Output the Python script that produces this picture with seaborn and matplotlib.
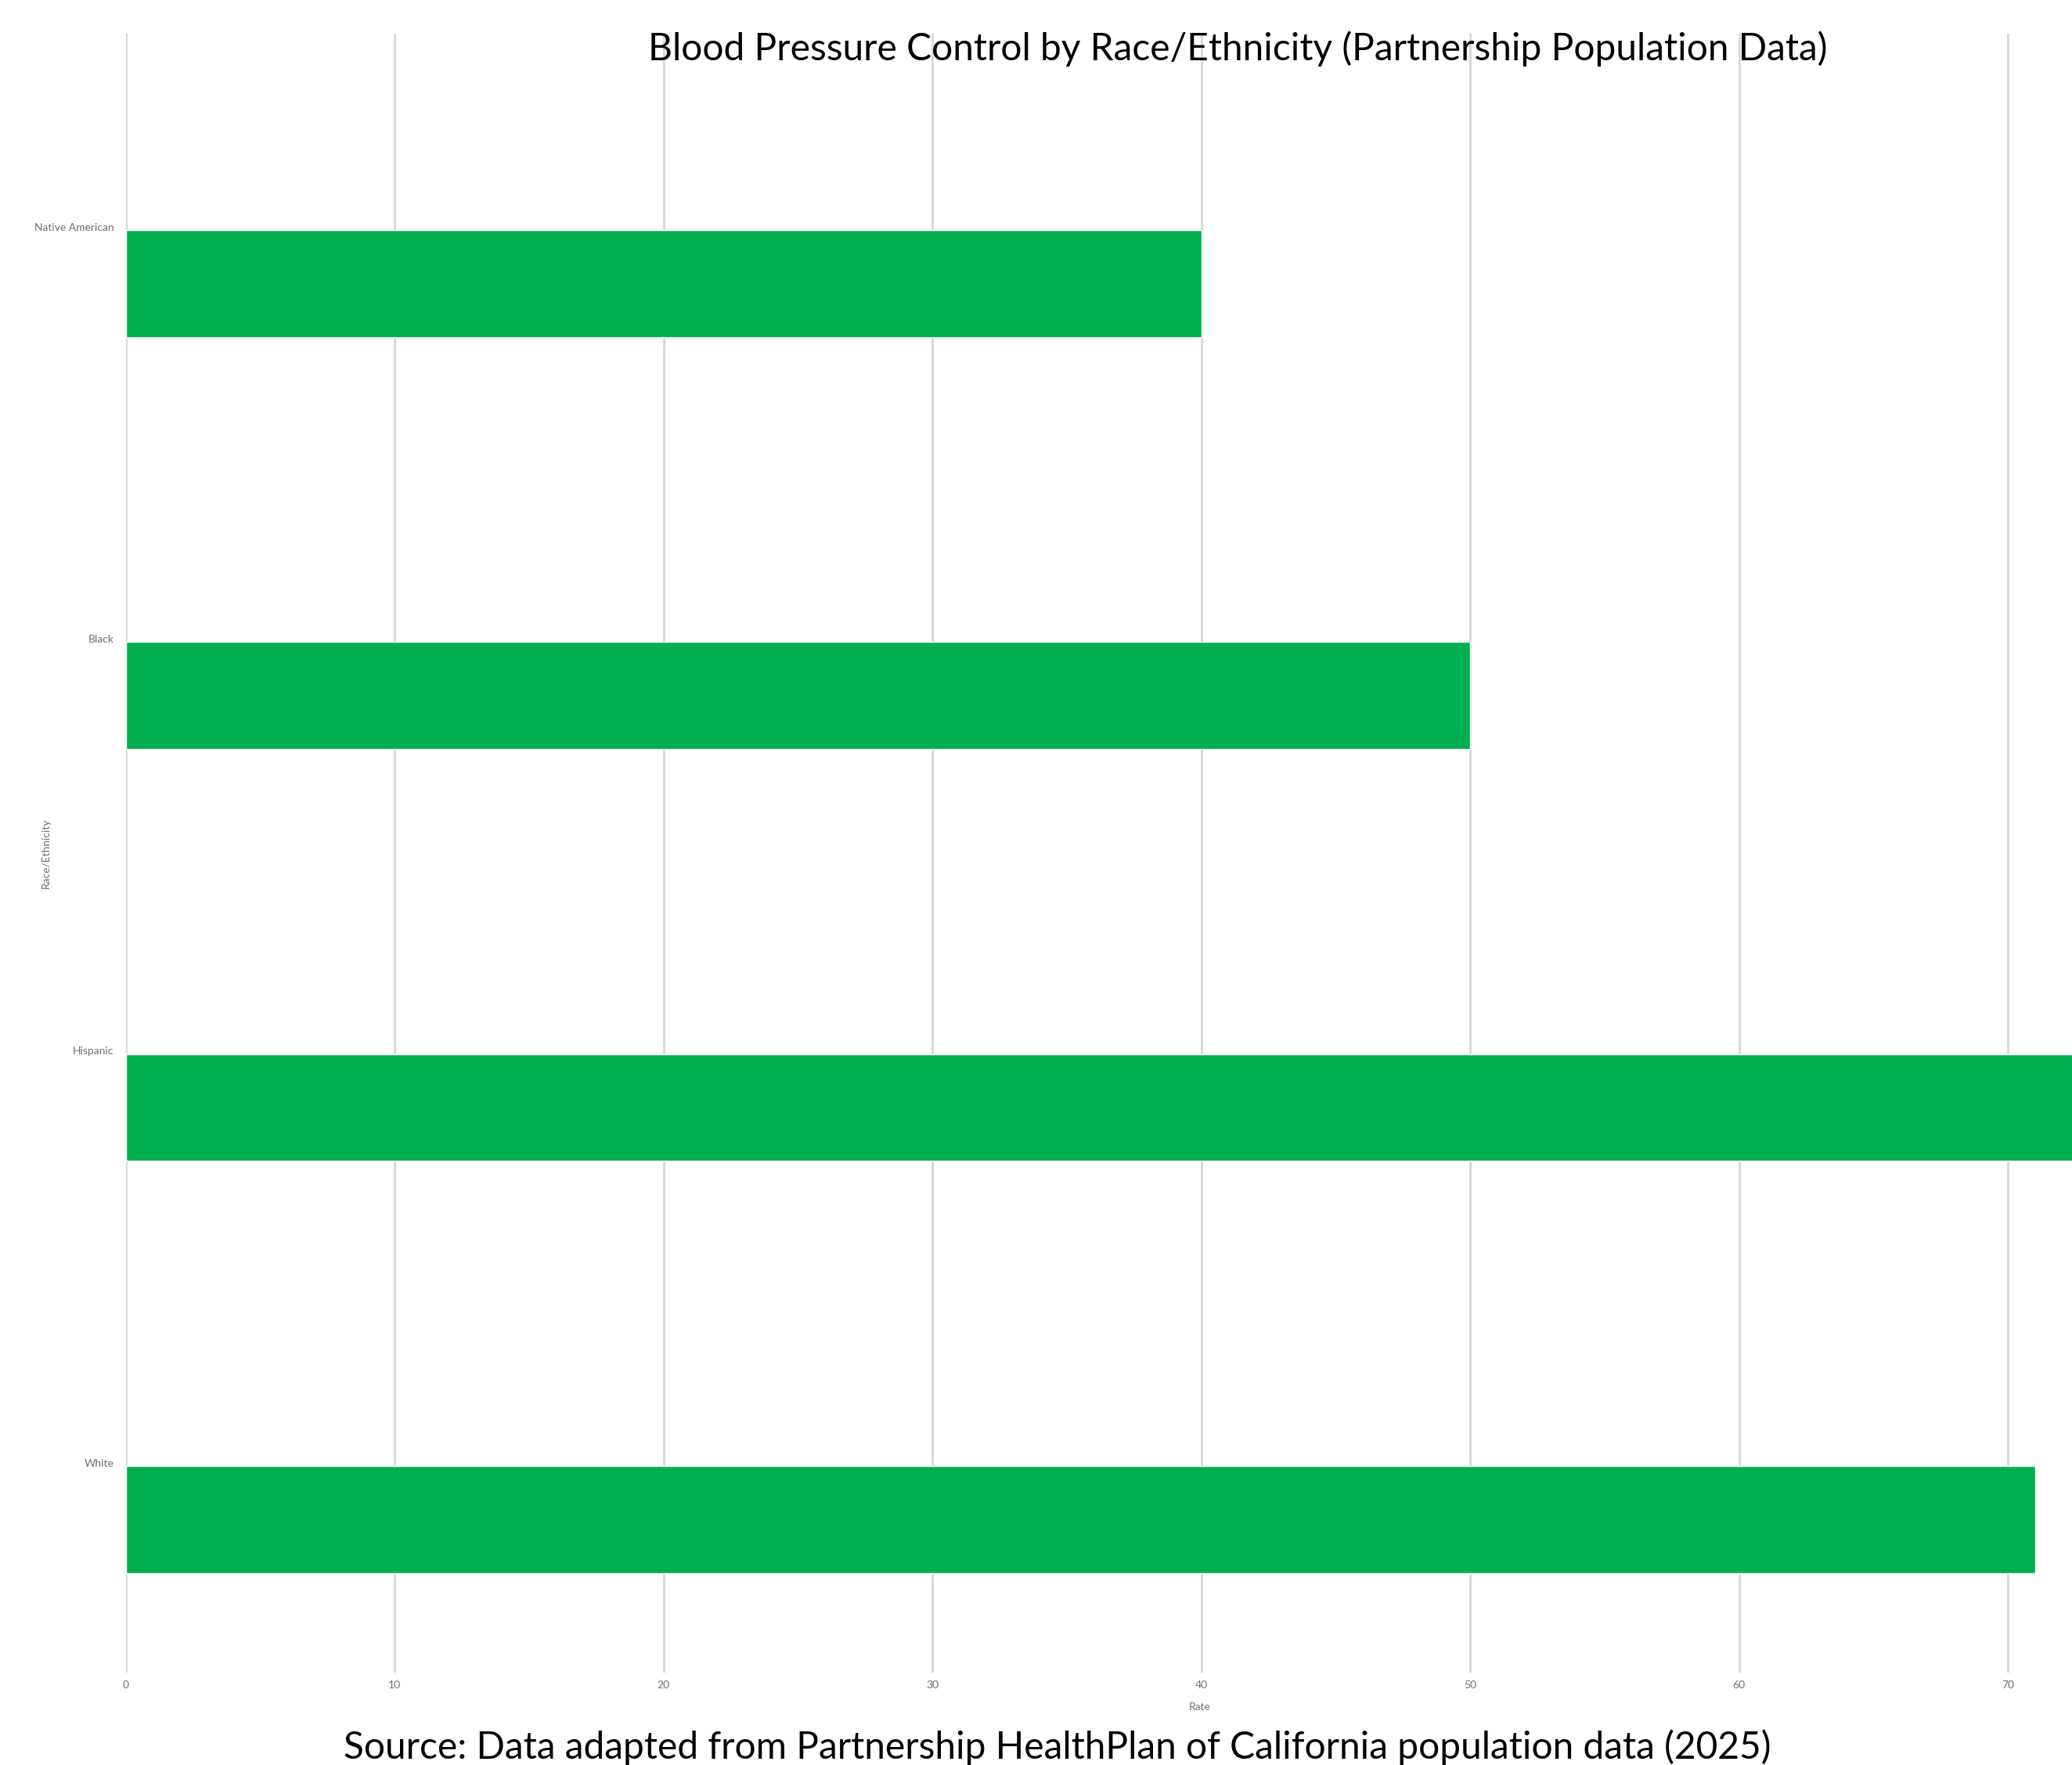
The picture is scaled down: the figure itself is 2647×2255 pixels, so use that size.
import matplotlib
matplotlib.use("Agg")
import matplotlib.pyplot as plt
import seaborn as sns
import pandas as pd

# ---- data ----
categories = ["Native American", "Black", "Hispanic", "White"]
rates = [40, 50, 79, 71]
x_ticks = [0, 10, 20, 30, 40, 50, 60, 70]
title = "Blood Pressure Control by Race/Ethnicity (Partnership Population Data)"
source = "Source: Data adapted from Partnership HealthPlan of California population data (2025)"
x_label = "Rate"
y_label = "Race/Ethnicity"

sns.set_theme(style="white")
plt.rcParams["font.family"] = ["Lato", "DejaVu Sans"]

df = pd.DataFrame({y_label: categories, x_label: rates})

W, H = 2647, 2255
fig = plt.figure(figsize=(W / 100, H / 100), dpi=100)
fig.patch.set_facecolor("white")

ax_left, ax_right, ax_top, ax_bottom = 160.5, 3001.5, 43, 2137
ax = fig.add_axes([ax_left / W, 1 - ax_bottom / H,
                   (ax_right - ax_left) / W, (ax_bottom - ax_top) / H])

sns.barplot(data=df, y=y_label, x=x_label, orient="h", color="#00AF50",
            saturation=1, width=0.26, ax=ax, errorbar=None)

ax.set_xlim(0, 82.7)
ax.set_xticks(x_ticks)
ax.set_ylim(3.372, -0.607)
ax.set_yticks([i - 0.138 for i in range(len(categories))], labels=categories)

for s in ax.spines.values():
    s.set_visible(False)
ax.grid(axis="x", color="#d9d9d9", linewidth=2.2)
ax.grid(axis="y", visible=False)
ax.set_axisbelow(True)

ax.tick_params(axis="both", length=0, labelsize=10, labelcolor="#6f6f6f")
ax.tick_params(axis="y", pad=11)
ax.tick_params(axis="x", pad=7)

ax.set_xlabel(x_label, fontsize=10, color="#6f6f6f")
ax.set_ylabel(y_label, fontsize=10, color="#6f6f6f")
axh = ax_bottom - ax_top
axw = ax_right - ax_left
ax.xaxis.label.set_verticalalignment("top")
ax.xaxis.set_label_coords((1533 - ax_left) / axw, -(2175 - ax_bottom) / axh)
ax.yaxis.set_label_coords((65 - ax_left) / axw, 0.5)

ax.set_title(title, fontsize=34.5, color="black", pad=0, y=1 - (77 - ax_top) / axh)

fig.text(1351 / W, 1 - 2232 / H, source, ha="center", va="center", fontsize=34.5, color="black")

fig.savefig("out.png", dpi=100)
